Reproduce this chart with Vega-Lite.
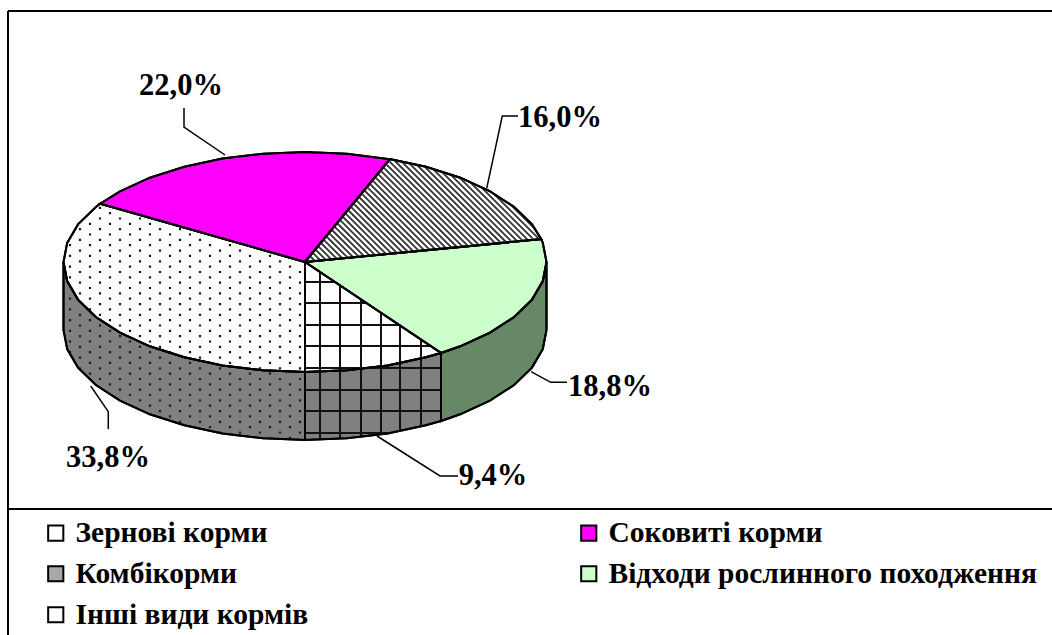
{"$schema":"https://vega.github.io/schema/vega-lite/v6.json","width":1052,"height":635,"padding":0,"autosize":{"type":"none"},"background":"white","config":{"view":{"stroke":null}},
"datasets":{
"shapes":[
{"part":"top","cat":"Зернові корми","o":0,"x":305,"y":262},{"part":"top","cat":"Зернові корми","o":1,"x":100.2,"y":203.7},{"part":"top","cat":"Зернові корми","o":2,"x":95.9,"y":207},{"part":"top","cat":"Зернові корми","o":3,"x":78,"y":224.4},{"part":"top","cat":"Зернові корми","o":4,"x":67.2,"y":242.9},{"part":"top","cat":"Зернові корми","o":5,"x":63.5,"y":262},{"part":"top","cat":"Зернові корми","o":6,"x":67.2,"y":281.1},{"part":"top","cat":"Зернові корми","o":7,"x":78,"y":299.6},{"part":"top","cat":"Зернові корми","o":8,"x":95.9,"y":317},{"part":"top","cat":"Зернові корми","o":9,"x":120,"y":332.7},{"part":"top","cat":"Зернові корми","o":10,"x":149.8,"y":346.3},{"part":"top","cat":"Зернові корми","o":11,"x":184.3,"y":357.3},{"part":"top","cat":"Зернові корми","o":12,"x":222.4,"y":365.4},{"part":"top","cat":"Зернові корми","o":13,"x":263.1,"y":370.3},{"part":"top","cat":"Зернові корми","o":14,"x":305,"y":372},{"part":"top","cat":"Зернові корми","o":15,"x":305,"y":262},
{"part":"top","cat":"Соковиті корми","o":0,"x":305,"y":262},{"part":"top","cat":"Соковиті корми","o":1,"x":390,"y":159.2},{"part":"top","cat":"Соковиті корми","o":2,"x":346.9,"y":153.7},{"part":"top","cat":"Соковиті корми","o":3,"x":305,"y":152},{"part":"top","cat":"Соковиті корми","o":4,"x":263.1,"y":153.7},{"part":"top","cat":"Соковиті корми","o":5,"x":222.4,"y":158.6},{"part":"top","cat":"Соковиті корми","o":6,"x":184.3,"y":166.7},{"part":"top","cat":"Соковиті корми","o":7,"x":149.8,"y":177.7},{"part":"top","cat":"Соковиті корми","o":8,"x":120,"y":191.3},{"part":"top","cat":"Соковиті корми","o":9,"x":100.2,"y":203.7},{"part":"top","cat":"Соковиті корми","o":10,"x":305,"y":262},
{"part":"top","cat":"Комбікорми","o":0,"x":305,"y":262},{"part":"top","cat":"Комбікорми","o":1,"x":541.2,"y":239.1},{"part":"top","cat":"Комбікорми","o":2,"x":532,"y":224.4},{"part":"top","cat":"Комбікорми","o":3,"x":514.1,"y":207},{"part":"top","cat":"Комбікорми","o":4,"x":490,"y":191.3},{"part":"top","cat":"Комбікорми","o":5,"x":460.2,"y":177.7},{"part":"top","cat":"Комбікорми","o":6,"x":425.8,"y":166.7},{"part":"top","cat":"Комбікорми","o":7,"x":390,"y":159.2},{"part":"top","cat":"Комбікорми","o":8,"x":305,"y":262},
{"part":"top","cat":"Відходи рослинного походження","o":0,"x":305,"y":262},{"part":"top","cat":"Відходи рослинного походження","o":1,"x":441,"y":353},{"part":"top","cat":"Відходи рослинного походження","o":2,"x":460.2,"y":346.3},{"part":"top","cat":"Відходи рослинного походження","o":3,"x":490,"y":332.7},{"part":"top","cat":"Відходи рослинного походження","o":4,"x":514.1,"y":317},{"part":"top","cat":"Відходи рослинного походження","o":5,"x":532,"y":299.6},{"part":"top","cat":"Відходи рослинного походження","o":6,"x":542.8,"y":281.1},{"part":"top","cat":"Відходи рослинного походження","o":7,"x":546.5,"y":262},{"part":"top","cat":"Відходи рослинного походження","o":8,"x":542.8,"y":242.9},{"part":"top","cat":"Відходи рослинного походження","o":9,"x":541.2,"y":239.1},{"part":"top","cat":"Відходи рослинного походження","o":10,"x":305,"y":262},
{"part":"top","cat":"Інші види кормів","o":0,"x":305,"y":262},{"part":"top","cat":"Інші види кормів","o":1,"x":305,"y":372},{"part":"top","cat":"Інші види кормів","o":2,"x":346.9,"y":370.3},{"part":"top","cat":"Інші види кормів","o":3,"x":387.6,"y":365.4},{"part":"top","cat":"Інші види кормів","o":4,"x":425.8,"y":357.3},{"part":"top","cat":"Інші види кормів","o":5,"x":441,"y":353},{"part":"top","cat":"Інші види кормів","o":6,"x":305,"y":262},
{"part":"side","cat":"Зернові корми","o":0,"x":63.5,"y":262},{"part":"side","cat":"Зернові корми","o":1,"x":67.2,"y":281.1},{"part":"side","cat":"Зернові корми","o":2,"x":78,"y":299.6},{"part":"side","cat":"Зернові корми","o":3,"x":95.9,"y":317},{"part":"side","cat":"Зернові корми","o":4,"x":120,"y":332.7},{"part":"side","cat":"Зернові корми","o":5,"x":149.8,"y":346.3},{"part":"side","cat":"Зернові корми","o":6,"x":184.3,"y":357.3},{"part":"side","cat":"Зернові корми","o":7,"x":222.4,"y":365.4},{"part":"side","cat":"Зернові корми","o":8,"x":263.1,"y":370.3},{"part":"side","cat":"Зернові корми","o":9,"x":305,"y":372},{"part":"side","cat":"Зернові корми","o":10,"x":305,"y":440},{"part":"side","cat":"Зернові корми","o":11,"x":263.1,"y":438.3},{"part":"side","cat":"Зернові корми","o":12,"x":222.4,"y":433.4},{"part":"side","cat":"Зернові корми","o":13,"x":184.3,"y":425.3},{"part":"side","cat":"Зернові корми","o":14,"x":149.8,"y":414.3},{"part":"side","cat":"Зернові корми","o":15,"x":120,"y":400.7},{"part":"side","cat":"Зернові корми","o":16,"x":95.9,"y":385},{"part":"side","cat":"Зернові корми","o":17,"x":78,"y":367.6},{"part":"side","cat":"Зернові корми","o":18,"x":67.2,"y":349.1},{"part":"side","cat":"Зернові корми","o":19,"x":63.5,"y":330},{"part":"side","cat":"Зернові корми","o":20,"x":63.5,"y":262},
{"part":"side","cat":"Інші види кормів","o":0,"x":305,"y":372},{"part":"side","cat":"Інші види кормів","o":1,"x":346.9,"y":370.3},{"part":"side","cat":"Інші види кормів","o":2,"x":387.6,"y":365.4},{"part":"side","cat":"Інші види кормів","o":3,"x":425.8,"y":357.3},{"part":"side","cat":"Інші види кормів","o":4,"x":441,"y":353},{"part":"side","cat":"Інші види кормів","o":5,"x":441,"y":421},{"part":"side","cat":"Інші види кормів","o":6,"x":425.8,"y":425.3},{"part":"side","cat":"Інші види кормів","o":7,"x":387.6,"y":433.4},{"part":"side","cat":"Інші види кормів","o":8,"x":346.9,"y":438.3},{"part":"side","cat":"Інші види кормів","o":9,"x":305,"y":440},{"part":"side","cat":"Інші види кормів","o":10,"x":305,"y":372},
{"part":"side","cat":"Відходи рослинного походження","o":0,"x":441,"y":353},{"part":"side","cat":"Відходи рослинного походження","o":1,"x":460.2,"y":346.3},{"part":"side","cat":"Відходи рослинного походження","o":2,"x":490,"y":332.7},{"part":"side","cat":"Відходи рослинного походження","o":3,"x":514.1,"y":317},{"part":"side","cat":"Відходи рослинного походження","o":4,"x":532,"y":299.6},{"part":"side","cat":"Відходи рослинного походження","o":5,"x":542.8,"y":281.1},{"part":"side","cat":"Відходи рослинного походження","o":6,"x":546.5,"y":262},{"part":"side","cat":"Відходи рослинного походження","o":7,"x":546.5,"y":330},{"part":"side","cat":"Відходи рослинного походження","o":8,"x":542.8,"y":349.1},{"part":"side","cat":"Відходи рослинного походження","o":9,"x":532,"y":367.6},{"part":"side","cat":"Відходи рослинного походження","o":10,"x":514.1,"y":385},{"part":"side","cat":"Відходи рослинного походження","o":11,"x":490,"y":400.7},{"part":"side","cat":"Відходи рослинного походження","o":12,"x":460.2,"y":414.3},{"part":"side","cat":"Відходи рослинного походження","o":13,"x":441,"y":421},{"part":"side","cat":"Відходи рослинного походження","o":14,"x":441,"y":353}
],
"dots":[
{"x":70,"y":244.1,"y2":288},{"x":80,"y":228.1,"y2":302},{"x":90,"y":222.7,"y2":312},{"x":100,"y":206.7,"y2":320},{"x":110,"y":212,"y2":327},{"x":120,"y":217.4,"y2":332},{"x":130,"y":222.7,"y2":337},{"x":140,"y":217.4,"y2":342},{"x":150,"y":222.7,"y2":346},{"x":160,"y":228.1,"y2":350},{"x":170,"y":233.4,"y2":353},{"x":180,"y":228.1,"y2":356},{"x":190,"y":233.4,"y2":358},{"x":200,"y":238.8,"y2":361},{"x":210,"y":244.1,"y2":363},{"x":220,"y":249.5,"y2":365},{"x":230,"y":244.1,"y2":366},{"x":240,"y":249.5,"y2":367},{"x":250,"y":254.8,"y2":369},{"x":260,"y":260.2,"y2":370},{"x":270,"y":254.8,"y2":370},{"x":280,"y":260.2,"y2":371},{"x":290,"y":265.5,"y2":371},{"x":300,"y":270.9,"y2":371},
{"x":70,"y":297.6,"y2":354},{"x":80,"y":313.7,"y2":369},{"x":90,"y":319,"y2":379},{"x":100,"y":324.4,"y2":387},{"x":110,"y":329.7,"y2":394},{"x":120,"y":335.1,"y2":399},{"x":130,"y":340.4,"y2":404},{"x":140,"y":345.8,"y2":409},{"x":150,"y":351.1,"y2":413},{"x":160,"y":356.5,"y2":417},{"x":170,"y":361.8,"y2":420},{"x":180,"y":367.2,"y2":423},{"x":190,"y":361.8,"y2":425},{"x":200,"y":367.2,"y2":428},{"x":210,"y":372.5,"y2":430},{"x":220,"y":367.2,"y2":432},{"x":230,"y":372.5,"y2":433},{"x":240,"y":377.9,"y2":434},{"x":250,"y":372.5,"y2":436},{"x":260,"y":377.9,"y2":437},{"x":270,"y":372.5,"y2":437},{"x":280,"y":377.9,"y2":438},{"x":290,"y":383.2,"y2":438},{"x":300,"y":377.9,"y2":439}
],
"hatch":[
{"x":509.3,"y":203.3,"x2":536.2,"y2":230.2},{"x":492.9,"y":192.9,"x2":538.2,"y2":238.2},{"x":480.1,"y":186.1,"x2":532.7,"y2":238.7},{"x":469.5,"y":181.5,"x2":527.3,"y2":239.3},{"x":459.3,"y":177.3,"x2":521.8,"y2":239.8},{"x":449.9,"y":173.9,"x2":516.4,"y2":240.4},{"x":441.1,"y":171.1,"x2":510.9,"y2":240.9},{"x":432.6,"y":168.6,"x2":505.5,"y2":241.5},{"x":424.3,"y":166.3,"x2":500,"y2":242},{"x":416.5,"y":164.5,"x2":494.6,"y2":242.6},{"x":408.6,"y":162.6,"x2":489.2,"y2":243.2},{"x":400.9,"y":160.9,"x2":483.7,"y2":243.7},{"x":393.5,"y":159.5,"x2":478.3,"y2":244.3},{"x":389.7,"y":161.7,"x2":472.8,"y2":244.8},{"x":386.9,"y":164.9,"x2":467.4,"y2":245.4},{"x":384.2,"y":168.2,"x2":461.9,"y2":245.9},{"x":381.4,"y":171.4,"x2":456.5,"y2":246.5},{"x":378.7,"y":174.7,"x2":451.1,"y2":247.1},{"x":375.9,"y":177.9,"x2":445.6,"y2":247.6},{"x":373.2,"y":181.2,"x2":440.2,"y2":248.2},{"x":370.5,"y":184.5,"x2":434.7,"y2":248.7},{"x":367.7,"y":187.7,"x2":429.3,"y2":249.3},{"x":365,"y":191,"x2":423.8,"y2":249.8},{"x":362.2,"y":194.2,"x2":418.4,"y2":250.4},{"x":359.5,"y":197.5,"x2":412.9,"y2":250.9},{"x":356.7,"y":200.7,"x2":407.5,"y2":251.5},{"x":354,"y":204,"x2":402.1,"y2":252.1},{"x":351.2,"y":207.2,"x2":396.6,"y2":252.6},{"x":348.5,"y":210.5,"x2":391.2,"y2":253.2},{"x":345.7,"y":213.7,"x2":385.7,"y2":253.7},{"x":343,"y":217,"x2":380.3,"y2":254.3},{"x":340.2,"y":220.2,"x2":374.8,"y2":254.8},{"x":337.5,"y":223.5,"x2":369.4,"y2":255.4},{"x":334.8,"y":226.8,"x2":363.9,"y2":255.9},{"x":332,"y":230,"x2":358.5,"y2":256.5},{"x":329.3,"y":233.3,"x2":353.1,"y2":257.1},{"x":326.5,"y":236.5,"x2":347.6,"y2":257.6},{"x":323.8,"y":239.8,"x2":342.2,"y2":258.2},{"x":321,"y":243,"x2":336.7,"y2":258.7},{"x":318.3,"y":246.3,"x2":331.3,"y2":259.3},{"x":315.5,"y":249.5,"x2":325.8,"y2":259.8},{"x":312.8,"y":252.8,"x2":320.4,"y2":260.4},{"x":310,"y":256,"x2":314.9,"y2":260.9}
],
"grid":[
{"x":320,"y":272,"x2":320,"y2":440},{"x":340,"y":285,"x2":340,"y2":439},{"x":361,"y":299,"x2":361,"y2":437},{"x":381,"y":312,"x2":381,"y2":434},{"x":400,"y":325,"x2":400,"y2":431},{"x":421,"y":339,"x2":421,"y2":426},
{"x":305,"y":282,"x2":335,"y2":282},{"x":305,"y":303,"x2":367,"y2":303},{"x":305,"y":325,"x2":400,"y2":325},{"x":305,"y":346,"x2":432,"y2":346},{"x":305,"y":368,"x2":441,"y2":368},{"x":305,"y":390,"x2":441,"y2":390},{"x":305,"y":411,"x2":441,"y2":411},{"x":305,"y":433,"x2":390,"y2":433}
],
"frame":[
{"x":8,"y":11,"x2":1052,"y2":11},{"x":8,"y":11,"x2":8,"y2":635},{"x":8,"y":509,"x2":1052,"y2":509}
],
"leaders":[
{"id":"a","o":0,"x":184,"y":108},{"id":"a","o":1,"x":184,"y":127},{"id":"a","o":2,"x":225,"y":155},
{"id":"b","o":0,"x":486.7,"y":188.3},{"id":"b","o":1,"x":502.3,"y":116},{"id":"b","o":2,"x":518,"y":116},
{"id":"c","o":0,"x":531,"y":371.7},{"id":"c","o":1,"x":550.7,"y":382.3},{"id":"c","o":2,"x":567,"y":382.3},
{"id":"d","o":0,"x":377,"y":436},{"id":"d","o":1,"x":440,"y":476},{"id":"d","o":2,"x":458,"y":476},
{"id":"e","o":0,"x":90.7,"y":386},{"id":"e","o":1,"x":108.3,"y":411.7},{"id":"e","o":2,"x":108.3,"y":429}
],
"labels":[
{"x":181,"y":86,"t":"22,0%"},{"x":560,"y":118,"t":"16,0%"},{"x":610,"y":387,"t":"18,8%"},{"x":493,"y":476,"t":"9,4%"},{"x":108,"y":458,"t":"33,8%"}
]},
"encoding":{
"x":{"field":"x","type":"quantitative","axis":null,"scale":{"domain":[0,1052],"nice":false,"zero":false}},
"y":{"field":"y","type":"quantitative","axis":null,"scale":{"domain":[0,635],"reverse":true,"nice":false,"zero":false}}
},
"layer":[
{"data":{"name":"shapes"},"transform":[{"filter":"datum.part==='side'"}],"mark":{"type":"line","stroke":"black","strokeWidth":2},"encoding":{"order":{"field":"o","type":"quantitative"},"fill":{"field":"cat","type":"nominal","legend":null,"scale":{"domain":["Зернові корми","Інші види кормів","Відходи рослинного походження"],"range":["#808080","#808080","#668866"]}}}},
{"data":{"name":"shapes"},"transform":[{"filter":"datum.part==='top'"}],"mark":{"type":"line","stroke":"black","strokeWidth":2},"encoding":{"order":{"field":"o","type":"quantitative"},"fill":{"field":"cat","type":"nominal","scale":{"domain":["Зернові корми","Соковиті корми","Комбікорми","Відходи рослинного походження","Інші види кормів"],"range":["#ffffff","#ff00ff","#a8a8a8","#ccffcc","#ffffff"]},"legend":{"title":null,"orient":"none","legendX":41,"legendY":518,"columns":2,"direction":"horizontal","symbolType":"square","symbolSize":230,"symbolStrokeColor":"black","symbolStrokeWidth":2,"labelFont":"Liberation Serif","labelFontWeight":"bold","labelFontSize":29.5,"labelColor":"black","labelOffset":5,"rowPadding":10,"columnPadding":265,"labelLimit":500,"gridAlign":"each"}}}},
{"data":{"name":"shapes"},"transform":[{"filter":"datum.part==='top' && datum.cat==='Комбікорми'"}],"mark":{"type":"line","stroke":"black","strokeWidth":2,"fill":"white"},"encoding":{"order":{"field":"o","type":"quantitative"}}},
{"data":{"name":"dots"},"mark":{"type":"rule","stroke":"#1a1a1a","strokeWidth":2.2,"strokeDash":[2.2,8.5]},"encoding":{"y2":{"field":"y2"}}},
{"data":{"name":"hatch"},"mark":{"type":"rule","stroke":"#333333","strokeWidth":1.8},"encoding":{"x2":{"field":"x2"},"y2":{"field":"y2"}}},
{"data":{"name":"grid"},"mark":{"type":"rule","stroke":"#111111","strokeWidth":2},"encoding":{"x2":{"field":"x2"},"y2":{"field":"y2"}}},
{"data":{"name":"shapes"},"mark":{"type":"line","stroke":"black","strokeWidth":2},"encoding":{"order":{"field":"o","type":"quantitative"},"detail":[{"field":"part"},{"field":"cat"}]}},
{"data":{"name":"leaders"},"mark":{"type":"line","stroke":"black","strokeWidth":1.5},"encoding":{"order":{"field":"o","type":"quantitative"},"detail":{"field":"id"}}},
{"data":{"name":"frame"},"mark":{"type":"rule","stroke":"black","strokeWidth":2},"encoding":{"x2":{"field":"x2"},"y2":{"field":"y2"}}},
{"data":{"name":"labels"},"mark":{"type":"text","font":"Liberation Serif","fontWeight":"bold","fontSize":30.5,"color":"black","align":"center","baseline":"middle"},"encoding":{"text":{"field":"t"}}}
],
"resolve":{"scale":{"fill":"independent"},"legend":{"fill":"independent"}}
}
